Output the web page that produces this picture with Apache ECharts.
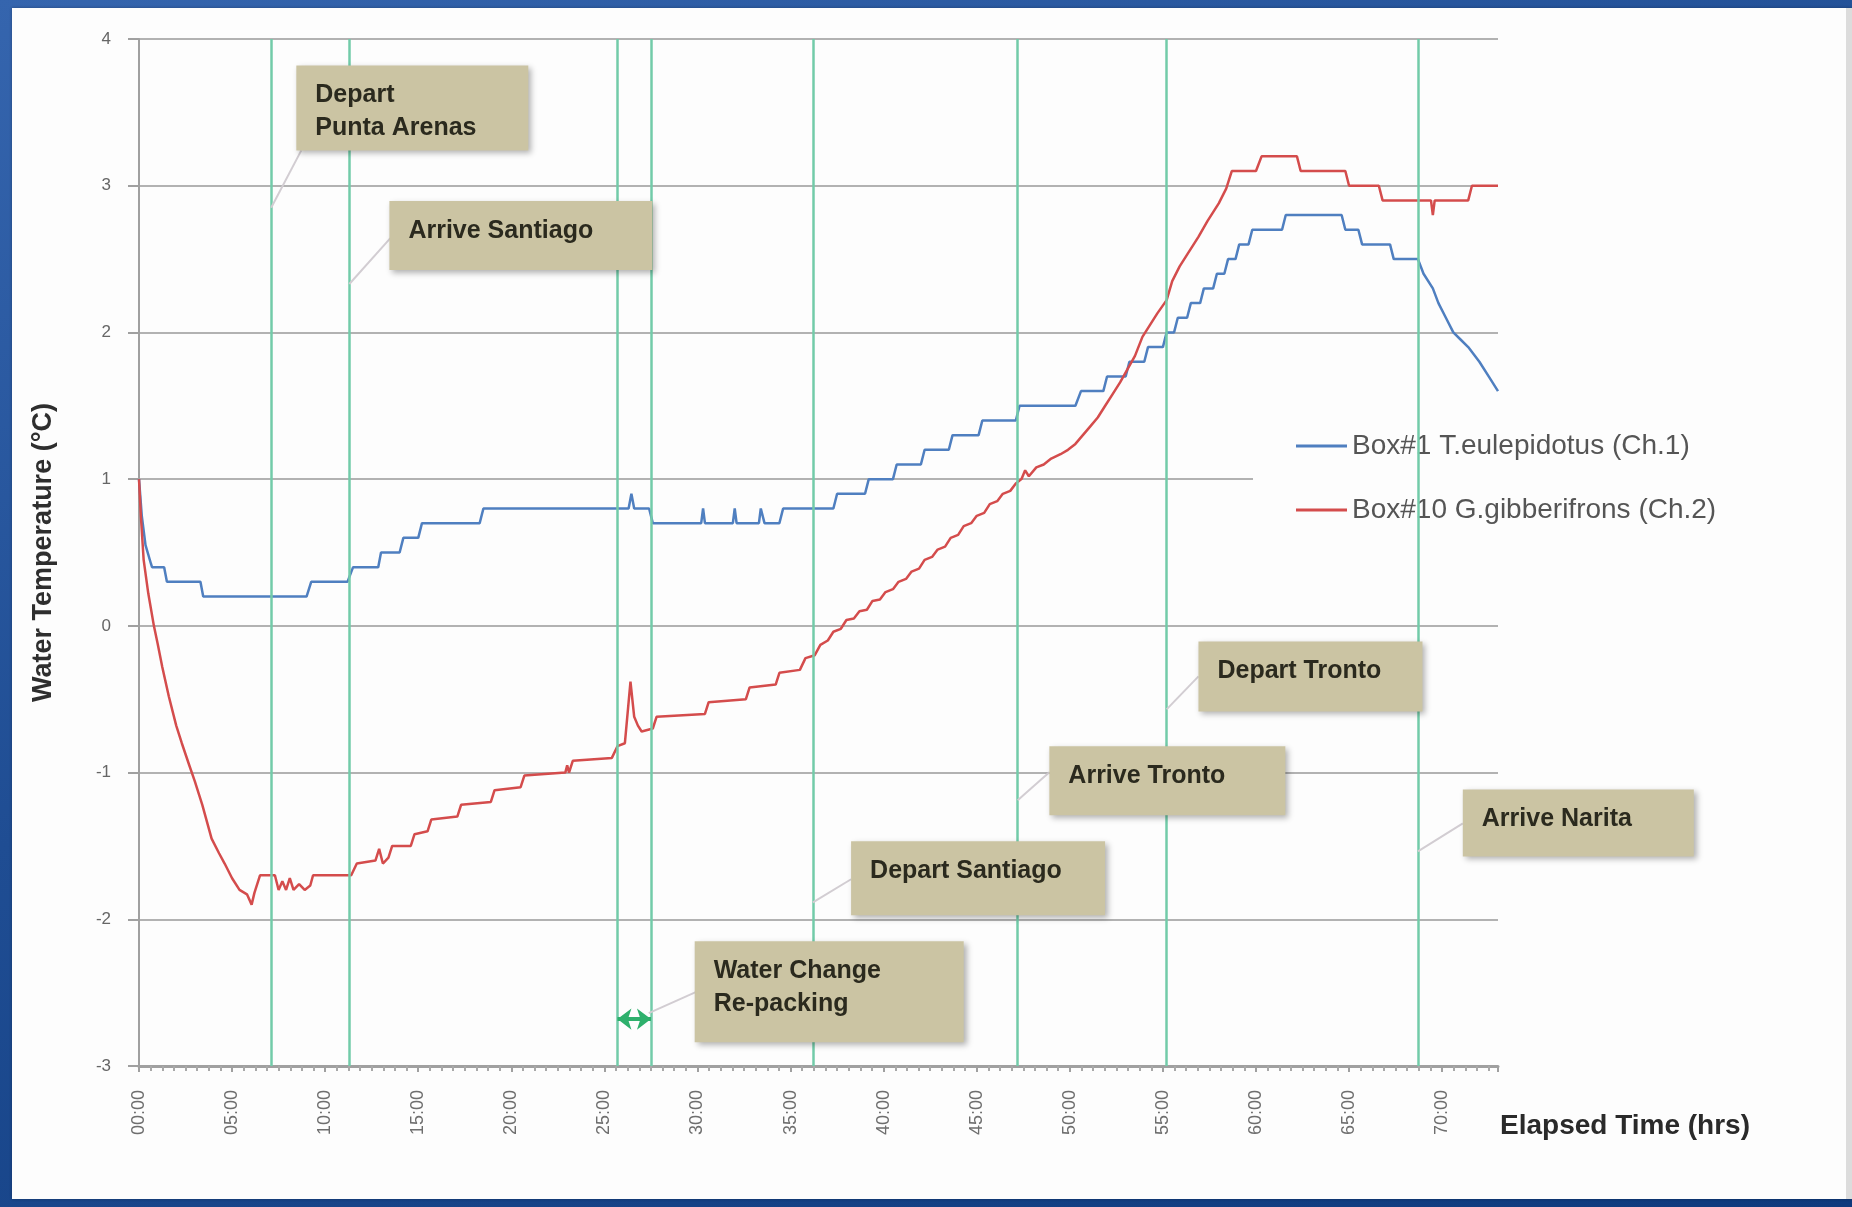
<!DOCTYPE html>
<html>
<head>
<meta charset="utf-8">
<script src="https://cdn.jsdelivr.net/npm/echarts@6/dist/echarts.min.js"></script>
<style>
html, body { margin: 0; padding: 0; width: 1852px; height: 1207px; overflow: hidden;
  background: linear-gradient(160deg, #3565ae 0%, #1f4d93 45%, #0e3a7d 100%); }
#panel { position: absolute; left: 12px; top: 8px; width: 1834px; height: 1191px;
  background: #fdfdfd; border-right: 6px solid #dcdcdc; box-shadow: 0 0 3px rgba(0,0,0,0.3); }
#chart { position: absolute; left: 0; top: 0; width: 1852px; height: 1207px; }
</style>
</head>
<body>
<div id="panel"></div>
<div id="chart"></div>
<script>
/* datos */
var xTickLabels = ['00:00', '05:00', '10:00', '15:00', '20:00', '25:00', '30:00', '35:00',
    '40:00', '45:00', '50:00', '55:00', '60:00', '65:00', '70:00'];

// horas transcurridas de cada evento del viaje (lineas verdes)
var eventHours = [7.1, 11.3, 25.7, 27.5, 36.2, 47.2, 55.2, 68.7];
var eventNames = ['Depart\nPunta Arenas', 'Arrive Santiago', 'Water Change\nRe-packing',
    'Depart Santiago', 'Arrive Tronto', 'Depart Tronto', 'Arrive Narita'];

var box1Name = 'Box#1 T.eulepidotus (Ch.1)';
var box10Name = 'Box#10 G.gibberifrons (Ch.2)';

// [horas, temperatura]
var box1Temp = [[0, 1.0], [0.15, 0.75], [0.35, 0.55], [0.65, 0.42], [0.7, 0.4], [1.35, 0.4], [1.5, 0.3],
    [3.3, 0.3], [3.45, 0.2], [9.0, 0.2], [9.25, 0.3], [11.2, 0.3], [11.5, 0.4], [12.85, 0.4], [13.0, 0.5],
    [14.0, 0.5], [14.2, 0.6], [15.0, 0.6], [15.2, 0.7], [18.3, 0.7], [18.5, 0.8], [26.3, 0.8], [26.45, 0.9],
    [26.6, 0.8], [27.4, 0.8], [27.6, 0.7], [30.2, 0.7], [30.3, 0.8], [30.4, 0.7], [31.9, 0.7], [32.0, 0.8],
    [32.1, 0.7], [33.3, 0.7], [33.4, 0.8], [33.6, 0.7], [34.4, 0.7], [34.6, 0.8], [37.3, 0.8], [37.5, 0.9],
    [39.0, 0.9], [39.2, 1.0], [40.5, 1.0], [40.7, 1.1], [42.0, 1.1], [42.2, 1.2], [43.5, 1.2], [43.7, 1.3],
    [45.1, 1.3], [45.3, 1.4], [47.1, 1.4], [47.3, 1.5], [50.3, 1.5], [50.6, 1.6], [51.8, 1.6], [52.0, 1.7],
    [53.0, 1.7], [53.2, 1.8], [54.0, 1.8], [54.2, 1.9], [55.0, 1.9], [55.2, 2.0], [55.6, 2.0], [55.8, 2.1],
    [56.3, 2.1], [56.5, 2.2], [57.0, 2.2], [57.2, 2.3], [57.7, 2.3], [57.9, 2.4], [58.3, 2.4], [58.5, 2.5],
    [58.9, 2.5], [59.1, 2.6], [59.6, 2.6], [59.8, 2.7], [61.4, 2.7], [61.6, 2.8], [64.6, 2.8], [64.8, 2.7],
    [65.5, 2.7], [65.7, 2.6], [67.2, 2.6], [67.4, 2.5], [68.7, 2.5], [69.0, 2.4], [69.5, 2.3], [69.8, 2.2],
    [70.2, 2.1], [70.6, 2.0], [71.0, 1.95], [71.4, 1.9], [72.0, 1.8], [72.5, 1.7], [73.0, 1.6]];

var box10Temp = [[0, 1.0], [0.1, 0.75], [0.25, 0.45], [0.5, 0.22], [0.8, 0.0], [1.0, -0.12], [1.25, -0.28],
    [1.6, -0.48], [2.0, -0.68], [2.3, -0.8], [2.7, -0.95], [3.0, -1.06], [3.4, -1.22], [3.9, -1.45],
    [4.3, -1.55], [4.6, -1.62], [5.0, -1.72], [5.4, -1.8], [5.8, -1.83], [6.05, -1.9], [6.2, -1.82],
    [6.5, -1.7], [7.3, -1.7], [7.5, -1.8], [7.7, -1.74], [7.9, -1.8], [8.1, -1.72], [8.3, -1.8],
    [8.6, -1.76], [8.9, -1.8], [9.2, -1.77], [9.35, -1.7], [11.4, -1.7], [11.7, -1.62], [12.7, -1.6],
    [12.9, -1.52], [13.1, -1.62], [13.4, -1.58], [13.6, -1.5], [14.6, -1.5], [14.8, -1.42], [15.5, -1.4],
    [15.7, -1.32], [17.1, -1.3], [17.3, -1.22], [18.9, -1.2], [19.1, -1.12], [20.5, -1.1], [20.7, -1.02],
    [22.9, -1.0], [23.0, -0.95], [23.1, -1.0], [23.3, -0.92], [25.4, -0.9], [25.7, -0.82], [26.1, -0.8],
    [26.4, -0.38], [26.6, -0.62], [26.8, -0.68], [27.0, -0.72], [27.6, -0.7], [27.8, -0.62], [30.4, -0.6],
    [30.6, -0.52], [32.6, -0.5], [32.8, -0.42], [34.2, -0.4], [34.4, -0.32], [35.5, -0.3], [35.8, -0.22],
    [36.3, -0.2], [36.6, -0.13], [37.0, -0.1], [37.3, -0.04], [37.7, -0.02], [38.0, 0.04], [38.4, 0.05],
    [38.7, 0.1], [39.1, 0.11], [39.4, 0.17], [39.8, 0.18], [40.1, 0.23], [40.5, 0.25], [40.8, 0.3],
    [41.2, 0.32], [41.5, 0.37], [41.9, 0.39], [42.2, 0.45], [42.6, 0.47], [42.9, 0.52], [43.3, 0.54],
    [43.6, 0.6], [44.0, 0.62], [44.3, 0.68], [44.7, 0.7], [45.0, 0.75], [45.4, 0.77], [45.7, 0.83],
    [46.1, 0.85], [46.4, 0.9], [46.8, 0.92], [47.1, 0.97], [47.4, 1.0], [47.6, 1.06], [47.8, 1.02],
    [48.2, 1.08], [48.6, 1.1], [49.0, 1.14], [49.5, 1.17], [49.9, 1.2], [50.3, 1.24], [50.7, 1.3],
    [51.1, 1.36], [51.5, 1.42], [51.9, 1.5], [52.3, 1.58], [52.7, 1.66], [53.1, 1.75], [53.5, 1.84],
    [53.9, 1.97], [54.3, 2.05], [54.7, 2.13], [55.2, 2.22], [55.5, 2.35], [55.9, 2.45], [56.3, 2.53],
    [56.9, 2.65], [57.4, 2.76], [58.0, 2.88], [58.4, 2.98], [58.7, 3.1], [60.0, 3.1], [60.3, 3.2],
    [62.2, 3.2], [62.4, 3.1], [64.8, 3.1], [65.0, 3.0], [66.6, 3.0], [66.8, 2.9], [69.4, 2.9], [69.5, 2.8],
    [69.6, 2.9], [71.4, 2.9], [71.6, 3.0], [73.0, 3.0]];
/* fin de datos */

// cajas de texto: punto de salida del conector (horas, grados), esquina de la caja (horas, grados)
var notes = [
    { from: [eventHours[0], 2.85], box: [8.45, 3.82], w: 232, h: 85, end: [5, 85] },
    { from: [eventHours[1], 2.33], box: [13.45, 2.895], w: 263, h: 69, end: [1, 37] },
    { from: [27.38, -2.64], box: [29.85, -2.149], w: 269, h: 101, end: [1, 51] },
    { from: [eventHours[4], -1.885], box: [38.25, -1.468], w: 254, h: 74, end: [0, 38] },
    { from: [eventHours[5], -1.189], box: [48.9, -0.821], w: 236, h: 69, end: [0, 26] },
    { from: [eventHours[6], -0.569], box: [56.91, -0.106], w: 224, h: 70, end: [0, 35] },
    { from: [eventHours[7], -1.537], box: [71.11, -1.115], w: 231, h: 67, end: [0, 34] }
];

var font = '"Liberation Sans", Arial, sans-serif';
var dom = document.getElementById('chart');
var myChart = echarts.init(dom);
var option = {
    animation: false,
    backgroundColor: 'transparent',
    grid: {
        left: 139,
        right: 354,
        top: 39,
        bottom: 141
    },
    legend: {
        orient: 'vertical',
        left: 1253,
        top: 414,
        padding: [18, 22, 18, 43],
        backgroundColor: '#fdfdfd',
        itemWidth: 51,
        itemHeight: 3,
        itemGap: 36,
        icon: 'rect',
        textStyle: {
            fontSize: 28,
            color: '#555',
            fontFamily: font
        },
        data: [box1Name, box10Name]
    },
    xAxis: {
        type: 'value',
        min: 0,
        max: 73,
        interval: 5,
        name: 'Elapsed Time (hrs)',
        nameLocation: 'end',
        nameGap: 2,
        nameTextStyle: {
            fontSize: 28,
            fontWeight: 'bold',
            color: '#2a2a2a',
            fontFamily: font,
            verticalAlign: 'top',
            padding: [46, 0, 0, 0]
        },
        axisLine: {
            onZero: false,
            lineStyle: { color: '#a0a0a0', width: 3 }
        },
        axisTick: {
            show: true,
            length: 6,
            lineStyle: { color: '#a0a0a0', width: 2 }
        },
        minorTick: {
            show: true,
            splitNumber: 8,
            length: 5,
            lineStyle: { color: '#a8a8a8', width: 2 }
        },
        axisLabel: {
            rotate: 90,
            margin: 24,
            fontSize: 18,
            color: '#6e6e6e',
            fontFamily: font,
            showMaxLabel: false,
            formatter: function (v) {
                return v % 5 === 0 ? xTickLabels[v / 5] : '';
            }
        },
        splitLine: { show: false }
    },
    yAxis: {
        type: 'value',
        min: -3,
        max: 4,
        interval: 1,
        name: 'Water Temperature (\u00B0C)',
        nameLocation: 'middle',
        nameGap: 82,
        nameTextStyle: {
            fontSize: 27,
            fontWeight: 'bold',
            color: '#2e2e2e',
            fontFamily: font
        },
        axisLine: {
            show: true,
            lineStyle: { color: '#a0a0a0', width: 2 }
        },
        axisTick: {
            show: true,
            length: 11,
            lineStyle: { color: '#a0a0a0', width: 2 }
        },
        axisLabel: {
            margin: 28,
            fontSize: 17,
            color: '#666',
            fontFamily: font
        },
        splitLine: {
            lineStyle: { color: '#b2b2b2', width: 2 }
        }
    },
    series: [{
        name: box1Name,
        type: 'line',
        data: box1Temp,
        symbol: 'none',
        z: 3,
        color: '#4f7fc0',
        lineStyle: { color: '#4f7fc0', width: 2.5 },
        markLine: {
            silent: true,
            symbol: 'none',
            label: { show: false },
            lineStyle: { type: 'solid', color: '#72cba9', width: 2.5 },
            data: eventHours.map(function (h) { return { xAxis: h }; })
        }
    }, {
        name: box10Name,
        type: 'line',
        data: box10Temp,
        symbol: 'none',
        z: 3,
        color: '#d44c4c',
        lineStyle: { color: '#d44c4c', width: 2.5 },
        markLine: {
            silent: true,
            symbol: ['arrow', 'arrow'],
            symbolSize: [16, 14],
            label: { show: false },
            lineStyle: { type: 'solid', color: '#2eb06c', width: 4 },
            data: [[{ coord: [eventHours[2], -2.68] }, { coord: [eventHours[3], -2.68] }]]
        }
    }]
};
myChart.setOption(option, true);

// cajas de anotaciones
var g = [];
notes.forEach(function (n, i) {
    var a = myChart.convertToPixel({ gridIndex: 0 }, n.from);
    var b = myChart.convertToPixel({ gridIndex: 0 }, n.box);
    g.push({
        type: 'line', z: 9,
        shape: { x1: a[0], y1: a[1], x2: b[0] + n.end[0], y2: b[1] + n.end[1] },
        style: { stroke: '#d2cdd2', lineWidth: 2 }
    });
    g.push({
        type: 'rect', z: 10,
        shape: { x: b[0], y: b[1], width: n.w, height: n.h },
        style: {
            fill: '#cbc4a3', shadowBlur: 6, shadowOffsetX: 3, shadowOffsetY: 3,
            shadowColor: 'rgba(0,0,0,0.3)'
        }
    });
    g.push({
        type: 'text', z: 11,
        x: b[0] + 19, y: b[1] + 13,
        style: {
            text: eventNames[i],
            font: 'bold 25px ' + font,
            fill: '#2b2a1e',
            lineHeight: 33,
            verticalAlign: 'top'
        }
    });
});
myChart.setOption({ graphic: g });
</script>
</body>
</html>
